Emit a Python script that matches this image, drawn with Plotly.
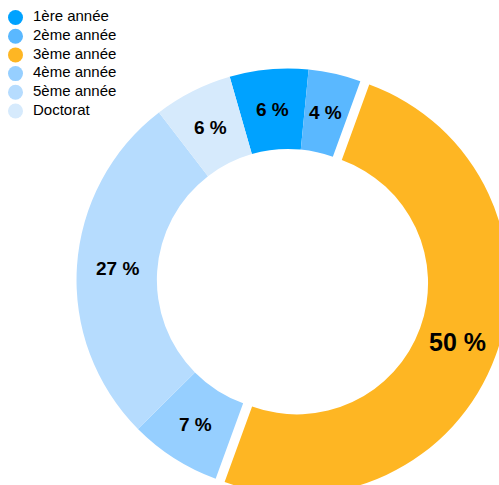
import math
import plotly.graph_objects as go

# Répartition des étudiants par niveau d'études (en %)
niveaux = ["1ère année", "2ème année", "3ème année", "4ème année", "5ème année", "Doctorat"]
pourcentages = [6, 4, 50, 7, 27, 6]
couleurs = ["#00A2FF", "#5AB8FF", "#FEB623", "#96CFFF", "#B6DCFE", "#D6EAFC"]
ecarts = [0, 0, 0.045, 0, 0, 0]
tailles_texte = [19, 19, 25, 19, 19, 19]

FONT = "Helvetica Neue, Helvetica, Arial, Liberation Sans, sans-serif"
W, H = 509, 501
TROU = 0.62
ROTATION = -16
DOM_X = [0.1316, 1.0]
DOM_Y = [0.0, 0.8822]

fig = go.Figure()

fig.add_trace(go.Pie(
    labels=niveaux,
    values=pourcentages,
    marker=dict(colors=couleurs, line=dict(width=0)),
    hole=TROU,
    pull=ecarts,
    sort=False,
    direction="clockwise",
    rotation=ROTATION,
    textinfo="none",
    domain=dict(x=DOM_X, y=DOM_Y),
    showlegend=False,
    hoverinfo="label+percent",
))

# Étiquettes « xx % » au milieu de l'anneau, dans l'axe de chaque secteur
cx = W * (DOM_X[0] + DOM_X[1]) / 2
cy = H * (1 - (DOM_Y[0] + DOM_Y[1]) / 2)
rayon = min(W * (DOM_X[1] - DOM_X[0]), H * (DOM_Y[1] - DOM_Y[0])) / (2 + 2 * max(ecarts))
r_milieu = rayon * (1 + TROU) / 2
total = sum(pourcentages)
cumul = 0
for val, ecart, taille in zip(pourcentages, ecarts, tailles_texte):
    angle = math.radians(ROTATION + 360 * (cumul + val / 2) / total)
    cumul += val
    r = r_milieu + ecart * rayon
    fig.add_annotation(
        x=cx + r * math.sin(angle), y=cy - r * math.cos(angle),
        xref="x", yref="y", text=f"{val} %", showarrow=False,
        xanchor="center", yanchor="middle",
        font=dict(family=FONT, size=taille, color="black", weight="bold"),
    )

# Légende à pastilles rondes, en coordonnées pixel sur des axes masqués
pas = 18.7
y_leg = [17.5 + pas * i for i in range(len(niveaux))]

fig.add_trace(go.Scatter(
    x=[15.5] * len(niveaux), y=y_leg, mode="markers",
    marker=dict(symbol="circle", size=15, color=couleurs, line=dict(width=0)),
    showlegend=False, hoverinfo="skip", cliponaxis=False,
))
fig.add_trace(go.Scatter(
    x=[33] * len(niveaux), y=y_leg, mode="text", text=niveaux,
    textposition="middle right",
    textfont=dict(family=FONT, size=15, color="black"),
    showlegend=False, hoverinfo="skip", cliponaxis=False,
))

fig.update_layout(
    width=W, height=H,
    margin=dict(l=0, r=0, t=0, b=0),
    paper_bgcolor="white", plot_bgcolor="rgba(0,0,0,0)",
    xaxis=dict(visible=False, range=[0, W], domain=[0, 1], fixedrange=True),
    yaxis=dict(visible=False, range=[H, 0], domain=[0, 1], fixedrange=True),
    showlegend=False,
)

fig.write_html("out.html", post_script="document.body.style.overflow='hidden';")
